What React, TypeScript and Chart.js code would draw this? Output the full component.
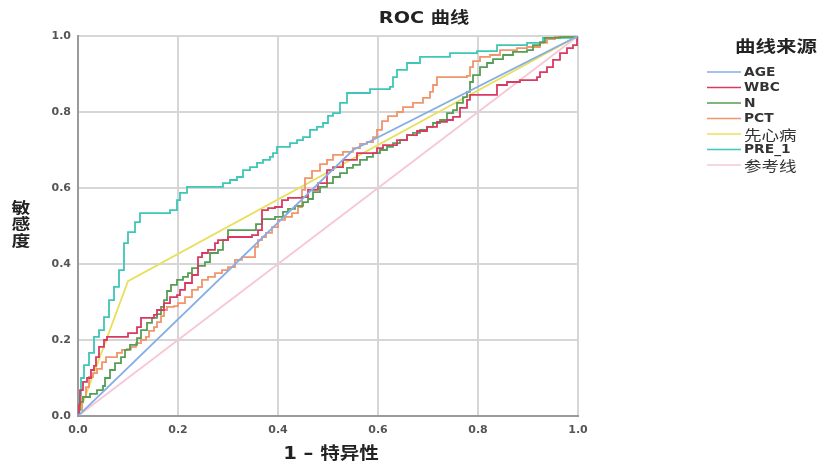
import { useEffect, useRef } from "react";
import { Chart, registerables } from "chart.js";

Chart.register(...registerables);

// ---- Text ----
const TITLE = "ROC 曲线";
const X_TITLE = "1 – 特异性";
const Y_TITLE = ["敏", "感", "度"];
const LEGEND_TITLE = "曲线来源";
const TICKS = [0, 0.2, 0.4, 0.6, 0.8, 1.0];

// ---- Series names ----
const NAMES = ["AGE", "WBC", "N", "PCT", "先心病", "PRE_1", "参考线"];

// ---- Series values: [1 - specificity, sensitivity] ----
const AGE: number[][] = [[0, 0], [0.55, 0.70], [1, 1]];

const WBC: number[][] = [
  [0, 0], [0.002, 0.03], [0.004, 0.068], [0.01, 0.09], [0.018, 0.1], [0.026, 0.121],
  [0.032, 0.132], [0.036, 0.155], [0.042, 0.182], [0.052, 0.2], [0.058, 0.208],
  [0.096, 0.208], [0.1, 0.218], [0.112, 0.218], [0.118, 0.234], [0.126, 0.258],
  [0.152, 0.266], [0.158, 0.279], [0.172, 0.297], [0.184, 0.313], [0.198, 0.318],
  [0.204, 0.332], [0.214, 0.35], [0.228, 0.371], [0.24, 0.418], [0.248, 0.429],
  [0.26, 0.437], [0.274, 0.455], [0.28, 0.463], [0.3, 0.471], [0.348, 0.476],
  [0.36, 0.489], [0.368, 0.542], [0.38, 0.547], [0.394, 0.55], [0.408, 0.568],
  [0.42, 0.574], [0.448, 0.576], [0.46, 0.595], [0.48, 0.613], [0.498, 0.647],
  [0.51, 0.655], [0.53, 0.674], [0.558, 0.692], [0.578, 0.692], [0.598, 0.705],
  [0.61, 0.713], [0.638, 0.726], [0.658, 0.739], [0.678, 0.75], [0.698, 0.761],
  [0.718, 0.774], [0.738, 0.779], [0.75, 0.787], [0.764, 0.811], [0.778, 0.832],
  [0.784, 0.845], [0.838, 0.845], [0.838, 0.871], [0.858, 0.879], [0.884, 0.884],
  [0.918, 0.892], [0.924, 0.905], [0.938, 0.918], [0.95, 0.937], [0.964, 0.955],
  [0.978, 0.968], [0.99, 0.976], [0.998, 0.99], [1, 1],
];

const N_VALS: number[][] = [
  [0, 0], [0.002, 0.016], [0.004, 0.037], [0.01, 0.05], [0.024, 0.058], [0.038, 0.068],
  [0.05, 0.079], [0.054, 0.1], [0.064, 0.121], [0.074, 0.139], [0.086, 0.155],
  [0.094, 0.174], [0.104, 0.187], [0.118, 0.205], [0.126, 0.226], [0.138, 0.245],
  [0.148, 0.258], [0.158, 0.268], [0.166, 0.287], [0.172, 0.305], [0.178, 0.329],
  [0.186, 0.345], [0.198, 0.358], [0.21, 0.366], [0.22, 0.376], [0.228, 0.389],
  [0.24, 0.395], [0.254, 0.405], [0.264, 0.429], [0.28, 0.437], [0.29, 0.463],
  [0.3, 0.489], [0.348, 0.489], [0.356, 0.505], [0.368, 0.518], [0.394, 0.524],
  [0.41, 0.537], [0.42, 0.545], [0.434, 0.553], [0.45, 0.563], [0.46, 0.571],
  [0.47, 0.589], [0.484, 0.603], [0.498, 0.613], [0.51, 0.629], [0.524, 0.639],
  [0.538, 0.653], [0.55, 0.661], [0.564, 0.674], [0.578, 0.682], [0.59, 0.692],
  [0.604, 0.7], [0.618, 0.708], [0.63, 0.718], [0.644, 0.726], [0.658, 0.739],
  [0.67, 0.745], [0.684, 0.753], [0.698, 0.761], [0.71, 0.771], [0.724, 0.779],
  [0.738, 0.797], [0.75, 0.805], [0.758, 0.824], [0.77, 0.839], [0.778, 0.853],
  [0.784, 0.879], [0.79, 0.897], [0.804, 0.918], [0.818, 0.929], [0.83, 0.939],
  [0.85, 0.95], [0.87, 0.958], [0.898, 0.963], [0.91, 0.976], [0.924, 0.984],
  [0.934, 0.995], [0.964, 0.997], [1, 1],
];

const PCT: number[][] = [
  [0, 0], [0.002, 0.016], [0.008, 0.05], [0.016, 0.076], [0.022, 0.103], [0.03, 0.113],
  [0.038, 0.124], [0.048, 0.142], [0.056, 0.155], [0.072, 0.155], [0.078, 0.166],
  [0.088, 0.174], [0.098, 0.176], [0.106, 0.182], [0.116, 0.192], [0.126, 0.2],
  [0.136, 0.208], [0.142, 0.224], [0.152, 0.234], [0.158, 0.247], [0.166, 0.263],
  [0.172, 0.279], [0.178, 0.287], [0.192, 0.289], [0.2, 0.297], [0.214, 0.313],
  [0.228, 0.332], [0.24, 0.339], [0.248, 0.358], [0.26, 0.366], [0.274, 0.376],
  [0.288, 0.384], [0.3, 0.392], [0.314, 0.411], [0.328, 0.418], [0.34, 0.418],
  [0.354, 0.445], [0.36, 0.463], [0.368, 0.471], [0.376, 0.482], [0.388, 0.497],
  [0.4, 0.516], [0.414, 0.524], [0.428, 0.534], [0.44, 0.55], [0.448, 0.595],
  [0.454, 0.626], [0.468, 0.645], [0.484, 0.663], [0.498, 0.674], [0.51, 0.687],
  [0.53, 0.695], [0.55, 0.705], [0.564, 0.716], [0.578, 0.721], [0.59, 0.734],
  [0.598, 0.753], [0.608, 0.776], [0.62, 0.789], [0.638, 0.8], [0.65, 0.813],
  [0.67, 0.824], [0.69, 0.837], [0.704, 0.853], [0.71, 0.871], [0.718, 0.892],
  [0.778, 0.895], [0.784, 0.918], [0.79, 0.934], [0.804, 0.945], [0.824, 0.95],
  [0.844, 0.963], [0.878, 0.968], [0.898, 0.971], [0.924, 0.982], [0.938, 0.992],
  [0.954, 1.0], [1, 1],
];

const CHD: number[][] = [[0, 0], [0.1, 0.355], [1, 1]];

const PRE1: number[][] = [
  [0, 0], [0.002, 0.055], [0.006, 0.1], [0.012, 0.134], [0.022, 0.166], [0.032, 0.208],
  [0.042, 0.226], [0.052, 0.26], [0.062, 0.305], [0.072, 0.34], [0.082, 0.384],
  [0.092, 0.455], [0.1, 0.484], [0.114, 0.51], [0.124, 0.534], [0.178, 0.534],
  [0.184, 0.542], [0.198, 0.568], [0.204, 0.587], [0.218, 0.603], [0.284, 0.603],
  [0.29, 0.613], [0.304, 0.621], [0.318, 0.629], [0.33, 0.647], [0.344, 0.655],
  [0.358, 0.666], [0.37, 0.674], [0.384, 0.682], [0.39, 0.692], [0.398, 0.708],
  [0.424, 0.718], [0.438, 0.726], [0.45, 0.734], [0.464, 0.753], [0.478, 0.761],
  [0.49, 0.771], [0.5, 0.79], [0.51, 0.797], [0.524, 0.824], [0.538, 0.85],
  [0.584, 0.86], [0.624, 0.866], [0.63, 0.892], [0.638, 0.911], [0.658, 0.929],
  [0.684, 0.945], [0.744, 0.955], [0.798, 0.96], [0.838, 0.976], [0.898, 0.982],
  [0.93, 0.995], [1, 1],
];

const REF: number[][] = [[0, 0], [1, 1]];

const SERIES = [AGE, WBC, N_VALS, PCT, CHD, PRE1, REF];
const STEPPED = [false, true, true, true, false, true, false];

// ---- Styles ----
const COLORS = ["#86aee6", "#d83a62", "#559e55", "#f0956c", "#e8e05c", "#3ec6b6", "#f6c8d6"];

const CJK = "'DejaVu Sans', 'Noto Sans CJK SC', sans-serif";

function drawText(
  ctx: CanvasRenderingContext2D,
  text: string,
  x: number,
  y: number,
  font: string,
  align: CanvasTextAlign,
  sx: number
) {
  ctx.save();
  ctx.translate(x, y);
  ctx.scale(sx, 1);
  ctx.font = font;
  ctx.textAlign = align;
  ctx.textBaseline = "middle";
  ctx.fillText(text, 0, 0);
  ctx.restore();
}

const overlay = {
  id: "overlay",
  afterDraw(chart: any) {
    const ctx: CanvasRenderingContext2D = chart.ctx;
    ctx.save();
    // chart title
    ctx.fillStyle = "#222";
    drawText(ctx, TITLE, 424, 19, `bold 16px ${CJK}`, "center", 1.2);
    // x-axis title
    drawText(ctx, X_TITLE, 331, 455, `bold 17px ${CJK}`, "center", 1.15);
    // y-axis title (stacked)
    Y_TITLE.forEach((ch, i) => {
      drawText(ctx, ch, 21, 209 + i * 16.5, `bold 15px ${CJK}`, "center", 1.25);
    });
    // legend
    drawText(ctx, LEGEND_TITLE, 776, 48, `bold 16px ${CJK}`, "center", 1.28);
    chart.data.datasets.forEach((ds: any, i: number) => {
      const y = 72 + i * 15.5;
      ctx.strokeStyle = ds.borderColor;
      ctx.lineWidth = 1.6;
      ctx.beginPath();
      ctx.moveTo(707, y);
      ctx.lineTo(741, y);
      ctx.stroke();
      ctx.fillStyle = "#333";
      const isCJK = /[\u4e00-\u9fff]/.test(ds.label);
      if (isCJK) {
        drawText(ctx, ds.label, 744, y + 0.5, `14px 'Noto Sans CJK SC', sans-serif`, "left", 1.25);
      } else {
        drawText(ctx, ds.label, 744, y + 0.5, `bold 12px 'DejaVu Sans', sans-serif`, "left", 1.15);
      }
    });
    ctx.restore();
  },
};

export default function App() {
  const ref = useRef<HTMLCanvasElement | null>(null);

  useEffect(() => {
    if (!ref.current) return;
    const datasets = SERIES.map((pts, i) => ({
      label: NAMES[i],
      data: pts.map(([x, y]) => ({ x, y })),
      borderColor: COLORS[i],
      backgroundColor: COLORS[i],
      borderWidth: 1.8,
      pointRadius: 0,
      fill: false,
      tension: 0,
      stepped: STEPPED[i] ? ("before" as const) : false,
      order: i === 6 ? 10 : i,
    }));

    const tickFont = { family: "'DejaVu Sans', sans-serif", size: 11, weight: "bold" as const };

    const chart = new Chart(ref.current, {
      type: "line",
      data: { datasets },
      options: {
        responsive: false,
        animation: false,
        devicePixelRatio: 1,
        layout: { padding: { left: 0, top: 36, right: 242, bottom: 0 } },
        plugins: {
          legend: { display: false },
          title: { display: false },
          tooltip: { enabled: false },
        },
        scales: {
          x: {
            type: "linear",
            min: 0,
            max: 1,
            afterFit: (s: any) => {
              s.height = 48;
            },
            afterBuildTicks: (s: any) => {
              s.ticks = TICKS.map((v) => ({ value: v }));
            },
            ticks: {
              padding: 8,
              color: "#555",
              font: tickFont,
              maxRotation: 0,
              callback: (v: any) => Number(v).toFixed(1),
            },
            grid: { color: "#d6d6d6", lineWidth: 2, drawTicks: false },
            border: { color: "#9a9a9a", width: 2 },
          },
          y: {
            type: "linear",
            min: 0,
            max: 1,
            afterFit: (s: any) => {
              s.width = 78;
            },
            afterBuildTicks: (s: any) => {
              s.ticks = TICKS.map((v) => ({ value: v }));
            },
            ticks: {
              padding: 7,
              color: "#555",
              font: tickFont,
              callback: (v: any) => Number(v).toFixed(1),
            },
            grid: { color: "#d6d6d6", lineWidth: 2, drawTicks: false },
            border: { color: "#9a9a9a", width: 2 },
          },
        },
      },
      plugins: [overlay],
    });
    return () => chart.destroy();
  }, []);

  return (
    <div style={{ position: "fixed", left: 0, top: 0, width: 820, height: 464, background: "#fff" }}>
      <canvas ref={ref} width={820} height={464} style={{ display: "block", width: 820, height: 464 }} />
    </div>
  );
}
